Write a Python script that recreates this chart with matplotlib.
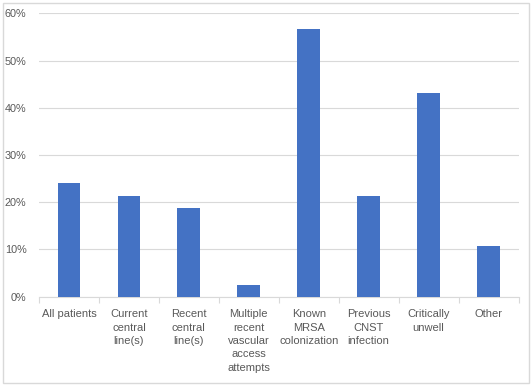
import matplotlib
matplotlib.use("Agg")
from matplotlib import pyplot as plt
from matplotlib.patches import Rectangle
from matplotlib.ticker import PercentFormatter, FixedLocator
import numpy as np

categories = [
    "All patients",
    "Current\ncentral\nline(s)",
    "Recent\ncentral\nline(s)",
    "Multiple\nrecent\nvascular\naccess\nattempts",
    "Known\nMRSA\ncolonization",
    "Previous\nCNST\ninfection",
    "Critically\nunwell",
    "Other",
]
values = [24.1, 21.3, 18.7, 2.5, 56.6, 21.3, 43.1, 10.7]
yticks = [0, 10, 20, 30, 40, 50, 60]

plt.rcParams["font.family"] = ["Liberation Sans", "DejaVu Sans"]
text_color = "#595959"
grid_color = "#d9d9d9"

fig = plt.figure(figsize=(5.32, 3.86), dpi=100)
fig.patches.append(Rectangle((3 / 532, 3 / 386), 526 / 532, 380 / 386,
                             transform=fig.transFigure, fill=False,
                             edgecolor=grid_color, linewidth=1))
ax = fig.add_axes([39 / 532, 89.3 / 386, 479.5 / 532, 283.4 / 386])

x = np.arange(len(categories))
ax.bar(x, values, width=0.38, color="#4472C4", zorder=3)

ax.set_xlim(-0.5, len(categories) - 0.5)
ax.set_ylim(0, 60)
ax.set_yticks(yticks)
ax.yaxis.set_major_formatter(PercentFormatter(decimals=0))
ax.tick_params(axis="y", length=0, pad=9, labelsize=7.8, labelcolor=text_color)
ax.grid(axis="y", color=grid_color, linewidth=0.8, zorder=0)

ax.set_xticks(x)
ax.set_xticklabels(categories, fontsize=8, color=text_color, linespacing=1.42)
ax.tick_params(axis="x", which="major", length=0, pad=9)
ax.xaxis.set_minor_locator(FixedLocator(np.arange(-0.5, len(categories), 1)))
ax.tick_params(axis="x", which="minor", length=4, color=grid_color, width=0.8)

for side in ["top", "right", "left"]:
    ax.spines[side].set_visible(False)
ax.spines["bottom"].set_color(grid_color)
ax.spines["bottom"].set_linewidth(0.8)

fig.savefig("out.png", dpi=100)
